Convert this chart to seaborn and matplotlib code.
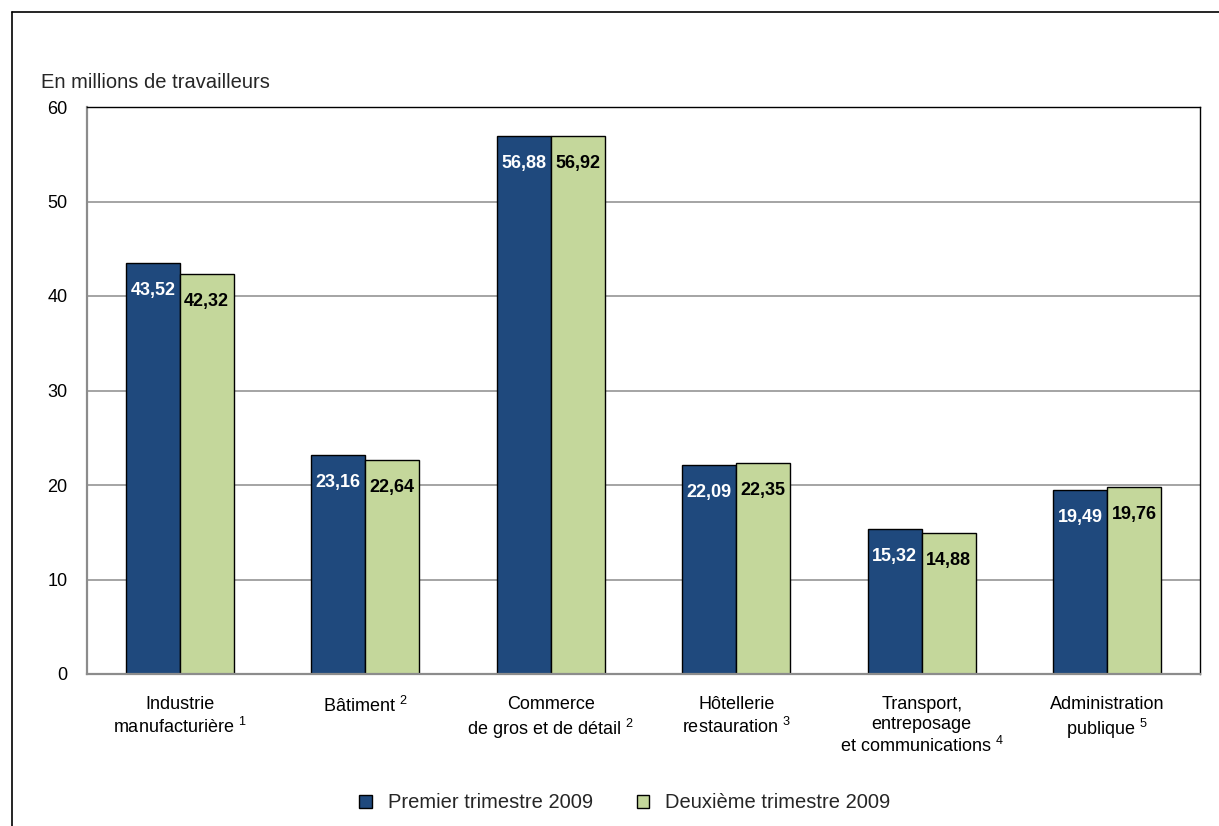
import matplotlib
matplotlib.use("Agg")
import matplotlib.pyplot as plt
import seaborn as sns
import pandas as pd
from matplotlib.lines import Line2D

categories = [
    "Industrie\nmanufacturière $^{1}$",
    "Bâtiment $^{2}$",
    "Commerce\nde gros et de détail $^{2}$",
    "Hôtellerie\nrestauration $^{3}$",
    "Transport,\nentreposage\net communications $^{4}$",
    "Administration\npublique $^{5}$",
]
series_names = ["Premier trimestre 2009", "Deuxième trimestre 2009"]
q1_values = [43.52, 23.16, 56.88, 22.09, 15.32, 19.49]
q2_values = [42.32, 22.64, 56.92, 22.35, 14.88, 19.76]
y_ticks = [0, 10, 20, 30, 40, 50, 60]
y_label = "En millions de travailleurs"

colors = ["#1F497D", "#C4D79B"]

sns.set_style("white")
plt.rcParams["font.family"] = ["Liberation Sans", "DejaVu Sans"]
plt.rcParams["mathtext.fontset"] = "custom"
plt.rcParams["mathtext.rm"] = "Liberation Sans"
plt.rcParams["mathtext.it"] = "Liberation Sans:italic"
plt.rcParams["mathtext.bf"] = "Liberation Sans:bold"

df = pd.DataFrame({
    "cat": categories * 2,
    "serie": [series_names[0]] * len(categories) + [series_names[1]] * len(categories),
    "val": q1_values + q2_values,
})

fig = plt.figure(figsize=(12.19, 8.26), dpi=100)
ax = fig.add_axes([87 / 1219, 1 - 674 / 826, (1200 - 87) / 1219, (674 - 107) / 826])

sns.barplot(data=df, x="cat", y="val", hue="serie", palette=colors,
            width=0.58, edgecolor="black", linewidth=1.0, ax=ax,
            saturation=1, legend=False)

ax.set_ylim(0, 60)
ax.set_yticks(y_ticks)
ax.set_xlim(-0.5, len(categories) - 0.5)
ax.set_xlabel("")
ax.set_ylabel("")
ax.yaxis.grid(True, color="#8c8c8c", linewidth=1.1)
ax.set_axisbelow(True)
ax.tick_params(axis="both", length=0, labelsize=13, colors="black")
ax.tick_params(axis="y", pad=14)
ax.tick_params(axis="x", pad=16)
for lab in ax.get_xticklabels():
    lab.set_horizontalalignment("center")
    lab.set_multialignment("center")

for s in ["left", "bottom"]:
    ax.spines[s].set_color("#8c8c8c")
    ax.spines[s].set_linewidth(1.6)
for s in ["top", "right"]:
    ax.spines[s].set_color("black")
    ax.spines[s].set_linewidth(1.0)
    ax.spines[s].set_visible(True)

# data labels
label_colors = ["white", "black"]
for ci, cont in enumerate(ax.containers):
    for bar in cont:
        h = bar.get_height()
        ax.text(bar.get_x() + bar.get_width() / 2, h - 2.9,
                f"{h:.2f}".replace(".", ","), ha="center", va="center",
                fontsize=13, fontweight="bold", color=label_colors[ci])

fig.text(41 / 1219, 1 - 82 / 826, y_label, fontsize=14.5, ha="left", va="center")

handles = [plt.Rectangle((0, 0), 1, 1, facecolor=c, edgecolor="black", linewidth=1.0)
           for c in colors]
fig.legend(handles, series_names, loc="center", bbox_to_anchor=(625 / 1219, 1 - 803 / 826),
           ncol=2, frameon=False, fontsize=14.5, handlelength=0.6, handleheight=0.6,
           columnspacing=2.2, handletextpad=0.8)

# outer frame (left and top)
x0, y0 = 12 / 1219, 1 - 12 / 826
fig.add_artist(Line2D([x0, x0], [0, y0], transform=fig.transFigure, color="black", linewidth=1.2))
fig.add_artist(Line2D([x0, 1], [y0, y0], transform=fig.transFigure, color="black", linewidth=1.2))

fig.savefig("out.png", dpi=100)
